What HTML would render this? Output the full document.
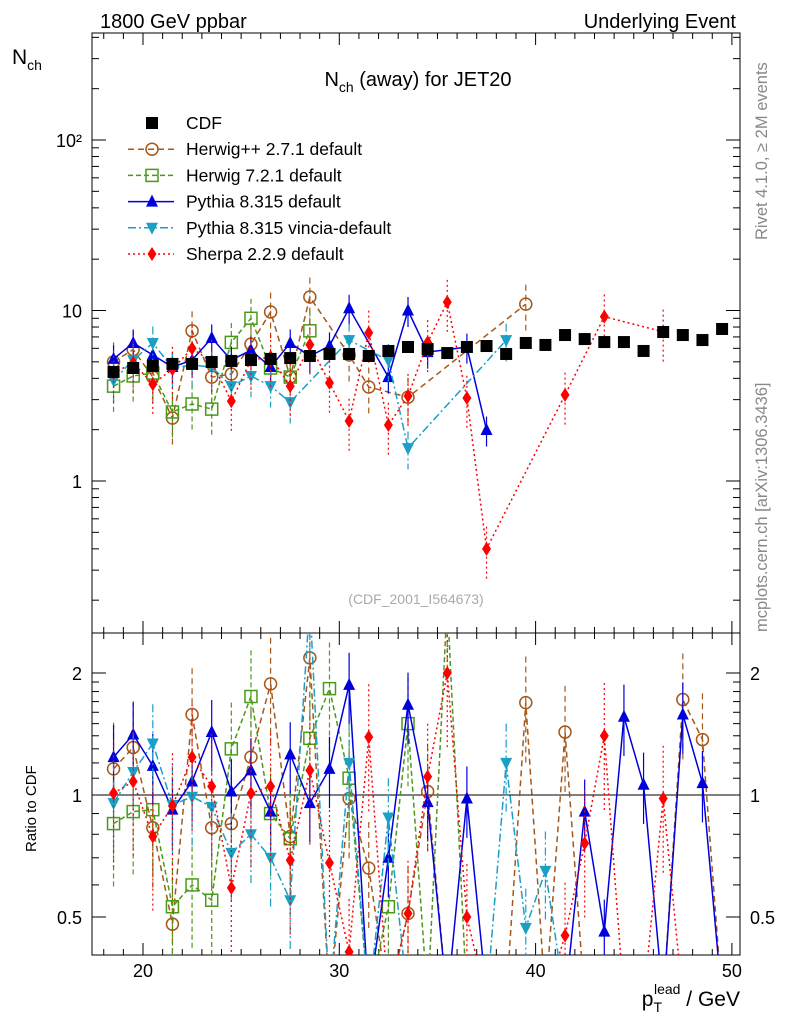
<!DOCTYPE html>
<html><head><meta charset="utf-8">
<style>
html,body{margin:0;padding:0;background:#fff;width:786px;height:1024px;overflow:hidden;}
svg{display:block;font-family:"Liberation Sans",sans-serif;overflow:hidden;}
</style></head>
<body>
<svg id="chart" width="786" height="1024" viewBox="0 0 786 1024" xmlns="http://www.w3.org/2000/svg">
<defs>
<clipPath id="cm"><rect x="92" y="33" width="648" height="600"/></clipPath>
<clipPath id="cr"><rect x="92" y="633" width="648" height="322"/></clipPath>
</defs>
<rect x="92" y="33" width="648" height="600" fill="none" stroke="#000" stroke-width="1"/>
<rect x="92" y="633" width="648" height="322" fill="none" stroke="#000" stroke-width="1"/>
<g id="axes"></g>
<g id="mainMarks" clip-path="url(#cm)"></g>
<g id="ratioMarks" clip-path="url(#cr)"></g>
<text x="100" y="28" font-size="20">1800 GeV ppbar</text>
<text x="736" y="28" font-size="20" text-anchor="end">Underlying Event</text>
<text x="12" y="64" font-size="21">N<tspan font-size="14" dy="6">ch</tspan></text>
<text x="418" y="86" font-size="20" text-anchor="middle">N<tspan font-size="14" dy="6">ch</tspan><tspan dy="-6"> (away) for JET20</tspan></text>
<text x="416" y="604" font-size="14" fill="#aaa" text-anchor="middle">(CDF_2001_I564673)</text>
<text transform="translate(767,240) rotate(-90)" font-size="16.5" fill="#888">Rivet 4.1.0, ≥ 2M events</text>
<text transform="translate(767,632) rotate(-90)" font-size="16.5" fill="#888">mcplots.cern.ch [arXiv:1306.3436]</text>
<text transform="translate(36,852) rotate(-90)" font-size="15">Ratio to CDF</text>
<text x="740" y="1006" font-size="21" text-anchor="end">p<tspan font-size="14" dy="6">T</tspan><tspan font-size="14" dx="-8" dy="-18">lead</tspan><tspan dy="12"> / GeV</tspan></text>
<g id="legend"></g>
</svg>
<script>
const xs = [18.5,19.5,20.5,21.5,22.5,23.5,24.5,25.5,26.5,27.5,28.5,29.5,30.5,31.5,32.5,33.5,34.5,35.5,36.5,37.5,38.5,39.5,40.5,41.5,42.5,43.5,44.5,45.5,46.5,47.5,48.5,49.5];
const cdf = [4.36,4.6,4.73,4.86,4.86,4.99,5.06,5.12,5.2,5.26,5.41,5.56,5.56,5.41,5.79,6.11,5.94,5.63,6.11,6.19,5.56,6.45,6.28,7.18,6.8,6.53,6.53,5.79,7.48,7.18,6.71,7.79];
const N=null;
const hwppMain = [5.0,5.9,4.07,2.34,7.6,4.07,4.24,6.35,9.8,4.07,12,N,5.48,3.56,N,3.1,N,N,N,N,N,10.9,N,N,N,N,N,N,N,N,N,N];
const hw7Main  = [3.6,4.13,4.3,2.54,2.83,2.64,6.5,9.0,4.6,4.07,7.6,N,N,N,N,N,N,N,N,N,N,N,N,N,N,N,N,N,N,N,N,N];
const pyMain   = [5.2,6.45,5.48,4.66,5.12,6.9,5.12,5.85,4.66,6.45,5.4,6.2,10.3,N,4.07,10.0,5.7,N,6.1,1.99,N,N,N,N,N,N,N,N,N,N,N,N];
const vinMain  = [3.9,5.12,6.45,4.6,4.79,4.66,3.6,4.13,3.6,2.9,N,N,6.7,N,5.1,1.56,N,N,N,N,6.7,N,N,N,N,N,N,N,N,N,N,N];
const shMain   = [4.3,4.93,3.7,4.53,6.0,4.99,2.94,5.12,5.33,3.6,6.3,3.76,2.25,7.4,2.13,3.15,6.5,11.2,3.07,0.4,N,N,N,3.2,N,9.2,N,N,7.5,N,N,N];
const hwppRatio = [1.16,1.31,0.83,0.48,1.58,0.83,0.85,1.24,1.88,0.79,2.18,0,0.98,0.66,0,0.51,1.02,0,0,0,0,1.69,0,1.43,0,0,0,0,0,1.72,1.37,0];
const hw7Ratio  = [0.85,0.91,0.92,0.53,0.60,0.55,1.30,1.75,0.90,0.78,1.38,1.83,1.10,0,0.53,1.50,0,3.0,0,0,0,0,0,0,0,0,0,0,0,0,0,0];
const pyRatio   = [1.24,1.41,1.18,0.92,1.08,1.43,1.02,1.15,0.91,1.26,0.955,1.16,1.87,0,0.70,1.67,0.96,0,0.98,0.32,0,0,0,0,0.91,0.46,1.56,1.06,0,1.58,1.07,0];
const vinRatio  = [0.955,1.14,1.34,0.945,0.99,0.935,0.72,0.80,0.70,0.55,3.0,0,1.20,0,0.88,0.25,0,0,0,0,1.20,0.47,0.65,0,0,0,0,0,0,0,0,0];
const shRatio   = [1.01,1.08,0.79,0.94,1.24,1.05,0.59,1.01,1.05,0.69,1.15,0.68,0.41,1.39,0,0.51,1.11,2.0,0.50,0,0,0,0,0.45,0.76,1.40,0,0,0.98,0,0,0];
const relErr = {hwpp:0.3, hw7:0.3, py:0.2, vin:0.25, sh:0.35};
const xTicksMajor = [20,30,40,50];
const mainTicks = [{v:100,l:"10²"},{v:10,l:"10"},{v:1,l:"1"}];
const ratioTicks = [{v:2,l:"2"},{v:1,l:"1"},{v:0.5,l:"0.5"}];

const NS="http://www.w3.org/2000/svg";
function X(v){return 143+(v-20)*19.63;}
function Ym(v){return 481-170.5*Math.log10(v);}
function Yr(r){return r<=0.3?1000:Math.max(600,795-122*Math.log2(r));}
function mk(tag,attrs,parent){const e=document.createElementNS(NS,tag);for(const k in attrs)e.setAttribute(k,attrs[k]);parent.appendChild(e);return e;}

const axes=document.getElementById('axes');
for(let v=18;v<=50;v++){
  const major=xTicksMajor.includes(v);const L=major?12:6;const x=X(v);
  [[33,1],[633,-1],[633,1],[955,-1]].forEach(([y0,d])=>{
    const t=mk('line',{x1:x,x2:x,y1:y0,y2:y0+d*L,stroke:'#000'},axes);
    
    
  });
  if(major){
    const t=mk('text',{x:x,y:977,'font-size':18,'text-anchor':'middle'},axes);t.textContent=v;
    
    
  }
}
for(let d=0.1;d<=1000;d*=10){
  for(let m=1;m<10;m++){
    const v=d*m;const y=Ym(v);if(y<33||y>633)continue;
    const L=m===1?14:7;
    [[92,1],[740,-1]].forEach(([x0,s])=>{
      const t=mk('line',{x1:x0,x2:x0+s*L,y1:y,y2:y,stroke:'#000'},axes);
      
      
    });
  }
}
mainTicks.forEach(tk=>{
  const t=mk('text',{x:82,y:Ym(tk.v)+7,'font-size':18,'text-anchor':'end'},axes);t.textContent=tk.l;
  
  
});
[0.5,0.6,0.7,0.8,0.9,1,1.1,1.2,1.3,1.4,1.5,1.6,1.7,1.8,1.9,2].forEach(v=>{
  const y=Yr(v);const L=(v===0.5||v===1||v===2)?14:7;
  [[92,1],[740,-1]].forEach(([x0,s])=>{
    const t=mk('line',{x1:x0,x2:x0+s*L,y1:y,y2:y,stroke:'#000'},axes);
    
    
  });
});
ratioTicks.forEach(tk=>{
  const a=mk('text',{x:82,y:Yr(tk.v)+7,'font-size':18,'text-anchor':'end'},axes);a.textContent=tk.l;
  
  
  const b=mk('text',{x:750,y:Yr(tk.v)+7,'font-size':18},axes);b.textContent=tk.l;
  
  
});
const one=mk('line',{x1:92,x2:740,y1:Yr(1),y2:Yr(1),stroke:'#000'},axes);



function marker(g,type,color,x,y){
  let e;
  if(type==='circle')e=mk('circle',{cx:x,cy:y,r:6,fill:'none',stroke:color,'stroke-width':1.5},g);
  else if(type==='osq')e=mk('rect',{x:x-6,y:y-6,width:12,height:12,fill:'none',stroke:color,'stroke-width':1.5},g);
  else if(type==='sq')e=mk('rect',{x:x-6,y:y-6,width:12,height:12,fill:color},g);
  else if(type==='up')e=mk('polygon',{points:`${x},${y-7} ${x-6},${y+5} ${x+6},${y+5}`,fill:color},g);
  else if(type==='down')e=mk('polygon',{points:`${x},${y+7} ${x-6},${y-5} ${x+6},${y-5}`,fill:color},g);
  else e=mk('polygon',{points:`${x},${y-7} ${x-4.5},${y} ${x},${y+7} ${x+4.5},${y}`,fill:color},g);
  return e;
}
const series=[
  {key:'hwpp',name:'Herwig++ 2.7.1 default',color:'#a5581a',dash:'6,4',m:'circle',main:hwppMain,ratio:hwppRatio},
  {key:'hw7',name:'Herwig 7.2.1 default',color:'#4a9a1a',dash:'5,3',m:'osq',main:hw7Main,ratio:hw7Ratio},
  {key:'py',name:'Pythia 8.315 default',color:'#0000dd',dash:'',m:'up',main:pyMain,ratio:pyRatio},
  {key:'vin',name:'Pythia 8.315 vincia-default',color:'#1a9fc7',dash:'8,3,2,3',m:'down',main:vinMain,ratio:vinRatio},
  {key:'sh',name:'Sherpa 2.2.9 default',color:'#ff0000',dash:'2,3',m:'diamond',main:shMain,ratio:shRatio}
];
const gm=document.getElementById('mainMarks'),gr=document.getElementById('ratioMarks');
series.forEach(s=>{
  const e=relErr[s.key];
  const g=mk('g',{},gm);
  
  
  const pts=[];
  s.main.forEach((v,i)=>{if(v!==null)pts.push([X(xs[i]),Ym(v),v]);});
  const pl=mk('polyline',{points:pts.map(p=>p[0]+','+p[1]).join(' '),fill:'none',stroke:s.color,'stroke-width':1.5,'stroke-dasharray':s.dash},g);
  
  
  pts.forEach(p=>{
    const eb=mk('line',{x1:p[0],x2:p[0],y1:Ym(p[2]*(1+e)),y2:Math.min(640,Ym(p[2]*(1-e))),stroke:s.color,'stroke-width':1.2,'stroke-dasharray':s.dash},g);
    
    
    const mm=marker(g,s.m,s.color,p[0],p[1]);
    
    
  });
  const g2=mk('g',{},gr);
  
  
  const rp=s.ratio.map((r,i)=>[X(xs[i]),Yr(r),r]);
  const pl2=mk('polyline',{points:rp.map(p=>p[0]+','+p[1]).join(' '),fill:'none',stroke:s.color,'stroke-width':1.5,'stroke-dasharray':s.dash},g2);
  
  
  rp.forEach(p=>{
    if(p[2]<=0.3)return;
    const eb=mk('line',{x1:p[0],x2:p[0],y1:Yr(p[2]*(1+e)),y2:Yr(p[2]*(1-e)),stroke:s.color,'stroke-width':1.2,'stroke-dasharray':s.dash},g2);
    
    
    const mm=marker(g2,s.m,s.color,p[0],p[1]);
    
    
  });
});
cdf.forEach((v,i)=>{
  const mm=marker(gm,'sq','#000',X(xs[i]),Ym(v));
  
  
});
const lg=document.getElementById('legend');
const legRows=[{name:'CDF',color:'#000',dash:'',m:'sq'}].concat(series);
legRows.forEach((s,i)=>{
  const y=123+i*26.2;
  const g=mk('g',{},lg);
  
  
  if(i>0){mk('line',{x1:128,x2:174,y1:y,y2:y,stroke:s.color,'stroke-width':1.5,'stroke-dasharray':s.dash},g);}
  marker(g,s.m,s.color,152,y);
  const t=mk('text',{x:186,y:y+6,'font-size':17.5},g);t.textContent=s.name;
});
</script>
</body></html>
